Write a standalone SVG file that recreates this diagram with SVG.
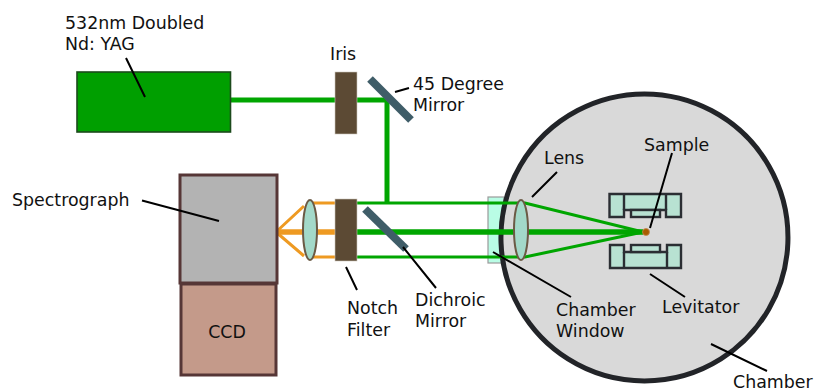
<svg xmlns="http://www.w3.org/2000/svg" width="814" height="390" viewBox="0 0 814 390">
<style>
text{font-family:"DejaVu Sans",Verdana,sans-serif;font-size:17.4px;fill:#111}
.beam{stroke:#00a600;fill:none}
.orange{stroke:#ee9a22;fill:none}
.lead{stroke:#000;stroke-width:2;fill:none}
.block{fill:#5c4a34;stroke:#ccc6bc;stroke-width:.6}
.mirror{stroke:#3f5d68;stroke-width:8;fill:none}
.lens{fill:#a3d9c9;stroke:#6b5a45;stroke-width:2}
.lev{fill:#b8e2d2;stroke:#2b2e33;stroke-width:2.4}
</style>
<rect width="814" height="390" fill="#fff"/>
<g id="window"><rect x="488" y="197" width="16" height="66" fill="#b9fde5" stroke="#9a9a9a" stroke-width="1.2"/></g>
<g id="chamber"><path d="M644.500 94A143.500 143.500 0 1 1 644.400 94Z" fill="#d9d9d9" stroke="#222428" stroke-width="5"/></g>
<g id="connectors">
<path class="beam" stroke-width="5" d="M230 100H337M357 100H387V203"/>
<path class="beam" stroke-width="3" d="M357 203H525L643 232L525 257H357"/>
<path class="beam" stroke-width="5.500" d="M357 232H643"/>
<path class="orange" stroke-width="3" d="M335 203H310M335 257H310M276 232L304 206M276 232L304 256"/>
<path class="orange" stroke-width="5.500" d="M276 232H335"/>
</g>
<g id="laser"><rect x="77" y="72" width="153.500" height="60" fill="#009f00" stroke="#1c4a1c" stroke-width="1.600"/></g>
<g id="iris"><rect class="block" x="335" y="72" width="22" height="62"/></g>
<g id="mirror45"><path class="mirror" d="M370 79L411 120"/></g>
<g id="notch"><rect class="block" x="335" y="199" width="22" height="62"/></g>
<g id="dichroic"><path class="mirror" d="M365 209L406 249"/></g>
<g id="spectrograph"><rect x="180" y="175" width="97" height="108" fill="#b3b3b3" stroke="#563636" stroke-width="3"/></g>
<g id="ccd"><rect x="181" y="284" width="95" height="91" fill="#c49a8a" stroke="#563636" stroke-width="3"/><text x="227" y="338" text-anchor="middle">CCD</text></g>
<g id="lens1"><ellipse class="lens" cx="310" cy="230" rx="7" ry="30"/></g>
<g id="lens2"><ellipse class="lens" cx="521" cy="230" rx="7" ry="30"/></g>
<g id="levitator-top"><path class="lev" d="M609.500 194H681V217H666V210H624V217H609.500Z"/><path class="lev" d="M624 194V210M666 194V210"/><rect class="lev" x="631" y="210" width="29" height="7"/></g>
<g id="levitator-bottom"><path class="lev" d="M610 245H624V252H667V245H681V268H610Z"/><path class="lev" d="M624 252V268M667 252V268"/><rect class="lev" x="631" y="245" width="29" height="7"/></g>
<g id="sample"><circle cx="646" cy="232" r="3.500" fill="#a85c00" stroke="#c08a50" stroke-width=".8"/></g>
<g id="leaders">
<path class="lead" d="M126 58L145 97M142 200.500L219 221M395 92L409 88M346 267L357 290M403 247L436 288M557 172L532 197M672 153L650 228M650 274L685 297M711 344L767 371M493 252L571 297"/>
</g>
<g id="labels">
<text x="65" y="29">532nm Doubled</text>
<text x="65" y="50">Nd: YAG</text>
<text x="330" y="60">Iris</text>
<text x="413" y="90">45 Degree</text>
<text x="413" y="111">Mirror</text>
<text x="12" y="206">Spectrograph</text>
<text x="544" y="164">Lens</text>
<text x="644" y="151">Sample</text>
<text x="347" y="314">Notch</text>
<text x="347" y="336">Filter</text>
<text x="415" y="306">Dichroic</text>
<text x="415" y="327">Mirror</text>
<text x="556" y="316">Chamber</text>
<text x="556" y="337">Window</text>
<text x="662" y="313">Levitator</text>
<text x="733" y="388">Chamber</text>
</g>
</svg>
